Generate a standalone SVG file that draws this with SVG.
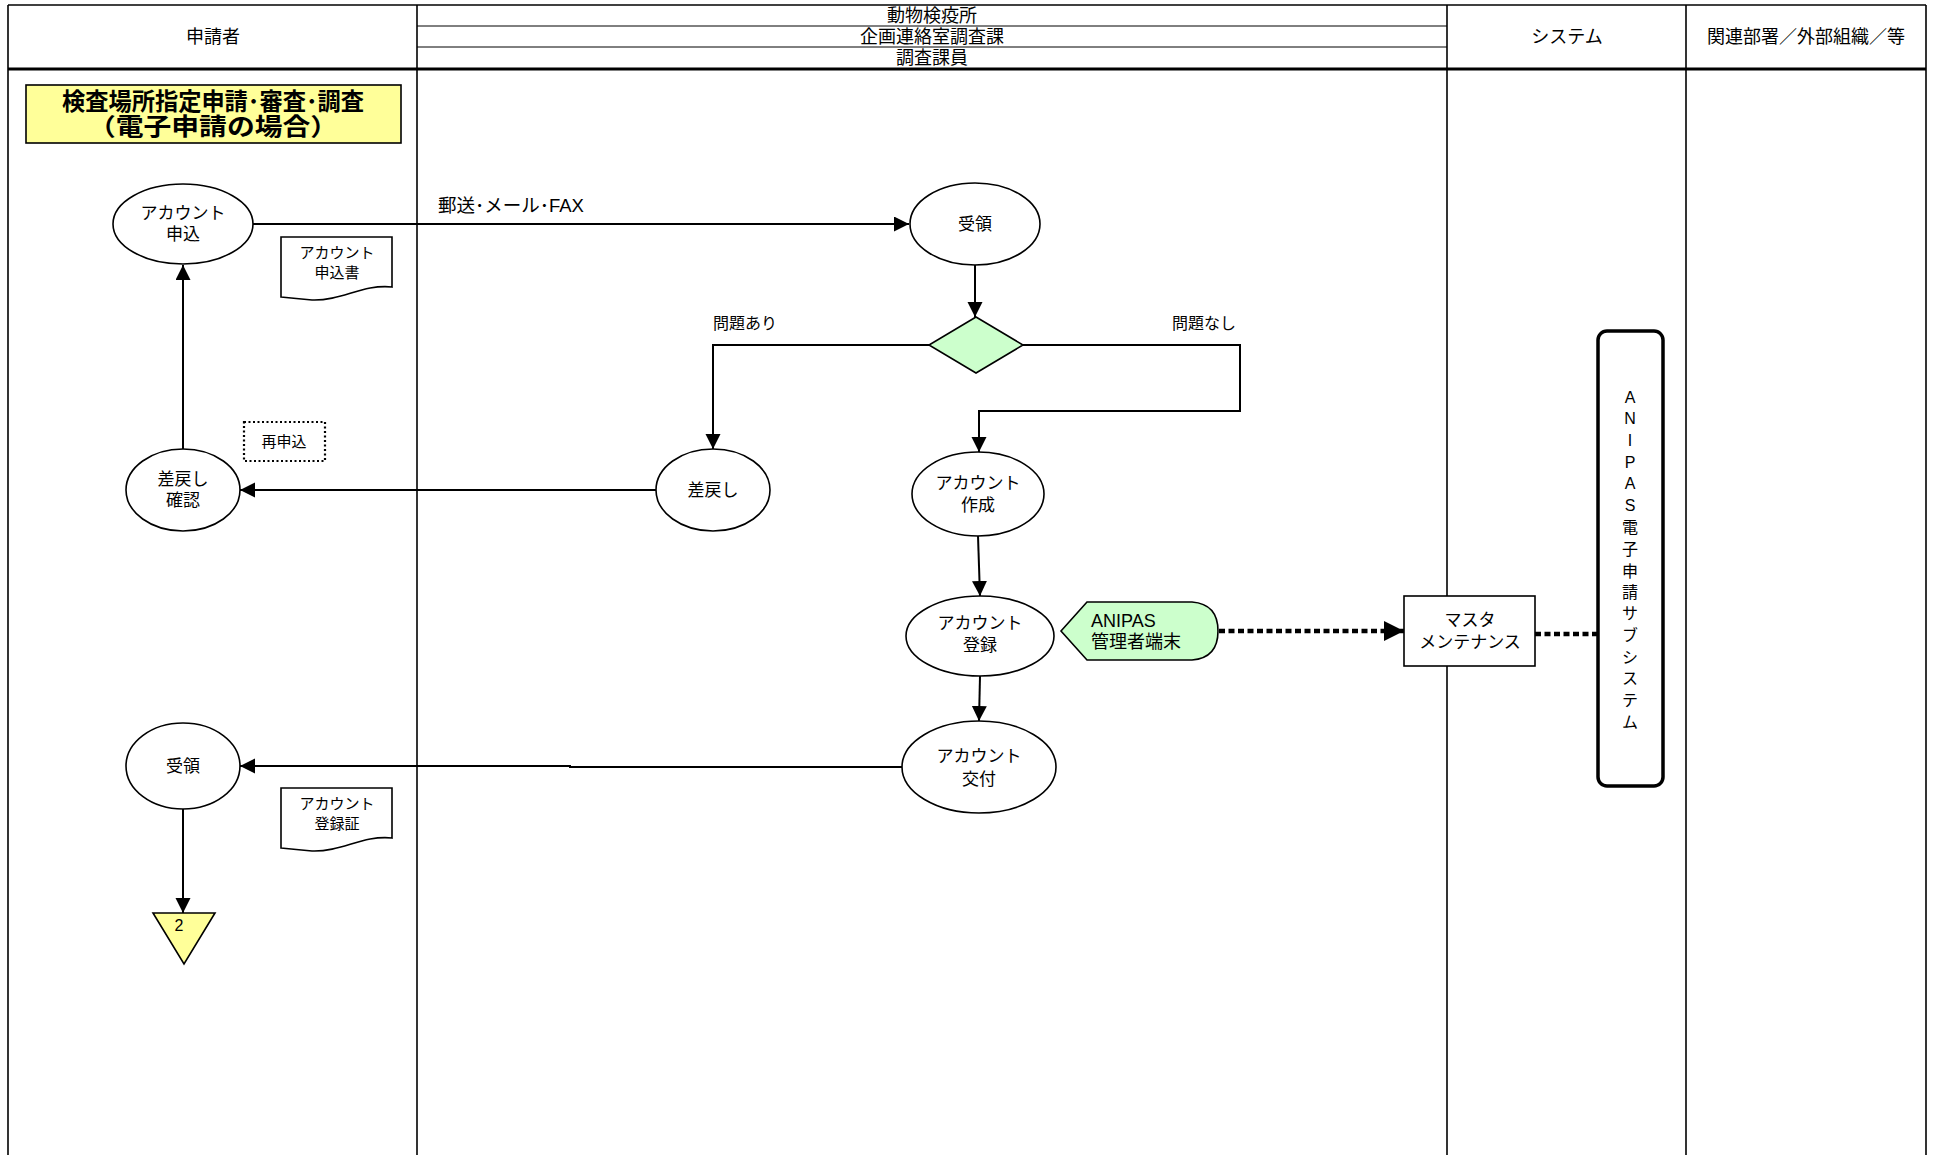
<svg xmlns="http://www.w3.org/2000/svg" width="1935" height="1155" viewBox="0 0 1935 1155">
<style>
text{font-family:"Liberation Sans","Noto Sans CJK JP",sans-serif;fill:#000;dominant-baseline:central;text-anchor:middle}
.hd{font-size:18px}
.nd{font-size:17px}
.sm{font-size:15px}
.lb{font-size:16px}
.ttl{font-size:24px;font-weight:bold}
.shape{fill:#fff;stroke:#000;stroke-width:1.6}
.lane{stroke:#000;stroke-width:1.6;fill:none}
.conn{stroke:#000;stroke-width:2;fill:none}
.dot{stroke:#000;stroke-width:4.5;fill:none;stroke-dasharray:6 3.5}
</style>
<defs>
<marker id="ah" markerUnits="userSpaceOnUse" markerWidth="16" markerHeight="16" refX="15" refY="7.5" orient="auto">
<path d="M0,0 L15,7.5 L0,15 Z" fill="#000"/>
</marker>
<marker id="ahb" markerUnits="userSpaceOnUse" markerWidth="22" markerHeight="22" refX="20" refY="10" orient="auto">
<path d="M0,0 L20,10 L0,20 Z" fill="#000"/>
</marker>
</defs>
<rect width="1935" height="1155" fill="#fff"/>
<g id="lanes">
<line class="lane" x1="8" y1="5" x2="1926" y2="5"/>
<line class="lane" x1="8" y1="5" x2="8" y2="1155"/>
<line class="lane" x1="417" y1="5" x2="417" y2="1155"/>
<line class="lane" x1="1447" y1="5" x2="1447" y2="1155"/>
<line class="lane" x1="1686" y1="5" x2="1686" y2="1155"/>
<line class="lane" x1="1926" y1="5" x2="1926" y2="1155"/>
<line stroke="#000" stroke-width="1" x1="417" y1="26" x2="1447" y2="26"/>
<line stroke="#000" stroke-width="1" x1="417" y1="47" x2="1447" y2="47"/>
<line stroke="#000" stroke-width="3" x1="8" y1="69" x2="1926" y2="69"/>
<text class="hd" x="213" y="37">申請者</text>
<text class="hd" x="932" y="16">動物検疫所</text>
<text class="hd" x="932" y="37">企画連絡室調査課</text>
<text class="hd" x="932" y="58">調査課員</text>
<text class="hd" x="1567" y="37">システム</text>
<text class="hd" x="1806" y="37">関連部署／外部組織／等</text>
</g>
<g id="title">
<rect x="26" y="85" width="375" height="58" fill="#FFFF99" stroke="#000" stroke-width="1.6"/>
<text class="ttl" x="213" y="101" textLength="302" lengthAdjust="spacingAndGlyphs">検査場所指定申請･審査･調査</text>
<text class="ttl" x="213" y="126" textLength="250" lengthAdjust="spacingAndGlyphs">（電子申請の場合）</text>
</g>
<g id="connectors">
<line class="conn" x1="253" y1="224" x2="909" y2="224" marker-end="url(#ah)"/>
<line class="conn" x1="975" y1="265" x2="975" y2="317" marker-end="url(#ah)"/>
<polyline class="conn" points="929,345 713,345 713,449" marker-end="url(#ah)"/>
<polyline class="conn" points="1023,345 1240,345 1240,411 979,411 979,452" marker-end="url(#ah)"/>
<line class="conn" x1="978" y1="536" x2="980" y2="596" marker-end="url(#ah)"/>
<line class="conn" x1="980" y1="676" x2="979" y2="721" marker-end="url(#ah)"/>
<line class="conn" x1="656" y1="490" x2="240" y2="490" marker-end="url(#ah)"/>
<line class="conn" x1="183" y1="449" x2="183" y2="265" marker-end="url(#ah)"/>
<polyline class="conn" points="902,767 570,767 570,766 240,766" marker-end="url(#ah)"/>
<line class="conn" x1="183" y1="809" x2="183" y2="913" marker-end="url(#ah)"/>
<line class="dot" x1="1219" y1="631" x2="1404" y2="631" marker-end="url(#ahb)"/>
<line class="dot" x1="1535" y1="634" x2="1598" y2="634"/>
<text x="438" y="205" style="text-anchor:start;font-size:18.5px">郵送･メール･FAX</text>
<text class="lb" x="745" y="323">問題あり</text>
<text class="lb" x="1204" y="323">問題なし</text>
</g>
<g id="n-apply">
<ellipse class="shape" cx="183" cy="224" rx="70" ry="40"/>
<text class="nd" x="183" y="213">アカウント</text>
<text class="nd" x="183" y="234">申込</text>
</g>
<g id="doc-apply">
<path class="shape" d="M281,237 H392 V287 C362,284 342,301 312,300 C300,299 290,298 281,297 Z"/>
<text class="sm" x="337" y="252">アカウント</text>
<text class="sm" x="337" y="272">申込書</text>
</g>
<g id="re-apply">
<rect x="244" y="422" width="81" height="39" fill="#fff" stroke="#000" stroke-width="2.2" stroke-dasharray="2 2.5"/>
<text class="sm" x="284" y="441">再申込</text>
</g>
<g id="n-return-check">
<ellipse class="shape" cx="183" cy="490" rx="57" ry="41"/>
<text class="nd" x="183" y="479">差戻し</text>
<text class="nd" x="183" y="500">確認</text>
</g>
<g id="n-receive-left">
<ellipse class="shape" cx="183" cy="766" rx="57" ry="43"/>
<text class="nd" x="183" y="766">受領</text>
</g>
<g id="doc-cert">
<path class="shape" d="M281,788 H392 V838 C362,835 342,852 312,851 C300,850 290,849 281,848 Z"/>
<text class="sm" x="337" y="803">アカウント</text>
<text class="sm" x="337" y="823">登録証</text>
</g>
<g id="offpage-2">
<path d="M153,913 L215,913 L184,964 Z" fill="#FFFF99" stroke="#000" stroke-width="1.6"/>
<text x="179" y="925" style="font-size:16px">2</text>
</g>
<g id="n-receive">
<ellipse class="shape" cx="975" cy="224" rx="65" ry="41"/>
<text class="nd" x="975" y="224">受領</text>
</g>
<g id="decision">
<path d="M976,317 L1023,345 L976,373 L929,345 Z" fill="#CCFFCC" stroke="#000" stroke-width="1.6"/>
</g>
<g id="n-return">
<ellipse class="shape" cx="713" cy="490" rx="57" ry="41"/>
<text class="nd" x="713" y="490">差戻し</text>
</g>
<g id="n-create">
<ellipse class="shape" cx="978" cy="494" rx="66" ry="42"/>
<text class="nd" x="978" y="483">アカウント</text>
<text class="nd" x="978" y="505">作成</text>
</g>
<g id="n-register">
<ellipse class="shape" cx="980" cy="636" rx="74" ry="40"/>
<text class="nd" x="980" y="623">アカウント</text>
<text class="nd" x="980" y="645">登録</text>
</g>
<g id="n-issue">
<ellipse class="shape" cx="979" cy="767" rx="77" ry="46"/>
<text class="nd" x="979" y="756">アカウント</text>
<text class="nd" x="979" y="779">交付</text>
</g>
<g id="terminal">
<path d="M1061,631 L1087,602 L1192,602 Q1218,604 1218,631 Q1218,658 1192,660 L1087,660 Z" fill="#CCFFCC" stroke="#000" stroke-width="1.6"/>
<text x="1091" y="621" style="text-anchor:start;font-size:18px">ANIPAS</text>
<text x="1091" y="642" style="text-anchor:start;font-size:18px">管理者端末</text>
</g>
<g id="master">
<rect class="shape" x="1404" y="596" width="131" height="70"/>
<text class="nd" x="1470" y="620">マスタ</text>
<text class="nd" x="1470" y="642">メンテナンス</text>
</g>
<g id="subsystem">
<rect x="1598" y="331" width="65" height="455" rx="9" fill="#fff" stroke="#000" stroke-width="3.5"/>
<text class="lb" x="1630" y="397">A</text>
<text class="lb" x="1630" y="418">N</text>
<text class="lb" x="1630" y="440">I</text>
<text class="lb" x="1630" y="462">P</text>
<text class="lb" x="1630" y="483">A</text>
<text class="lb" x="1630" y="505">S</text>
<text class="lb" x="1630" y="527">電</text>
<text class="lb" x="1630" y="549">子</text>
<text class="lb" x="1630" y="571">申</text>
<text class="lb" x="1630" y="592">請</text>
<text class="lb" x="1630" y="613">サ</text>
<text class="lb" x="1630" y="635">ブ</text>
<text class="lb" x="1630" y="657">シ</text>
<text class="lb" x="1630" y="678">ス</text>
<text class="lb" x="1630" y="700">テ</text>
<text class="lb" x="1630" y="722">ム</text>
</g>
</svg>
